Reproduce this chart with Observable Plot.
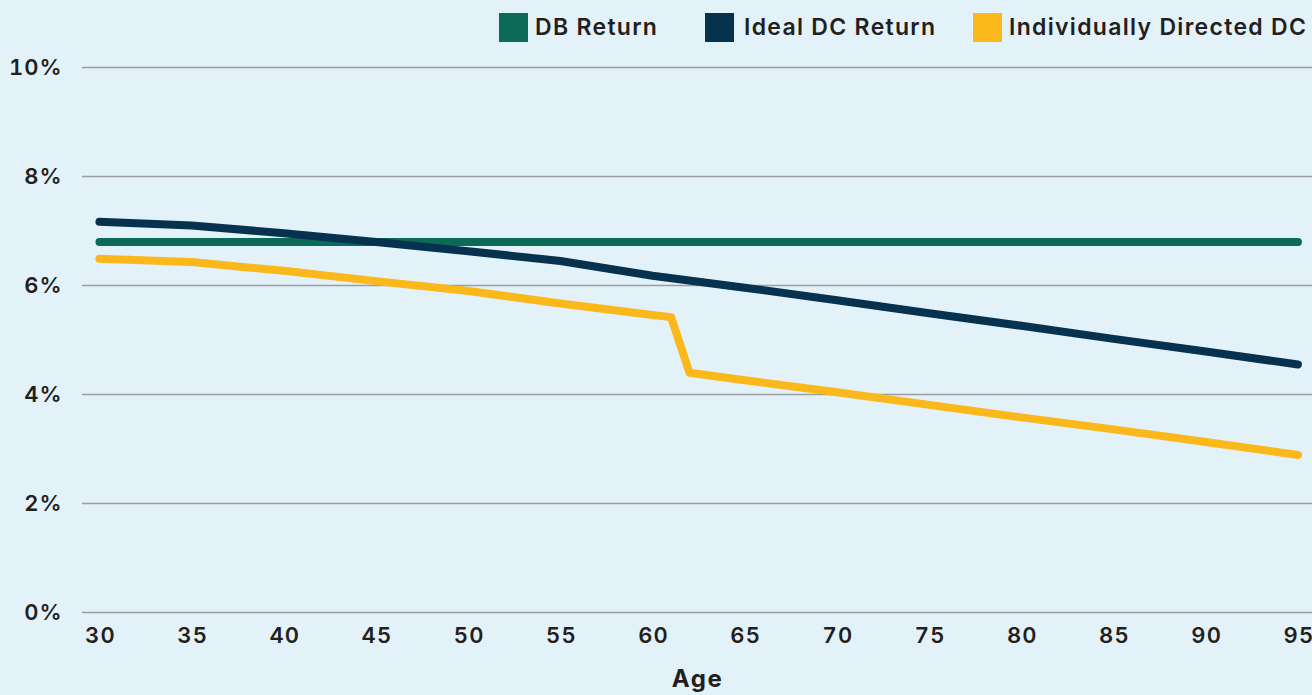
<!DOCTYPE html>
<html>
<head>
<meta charset="utf-8">
<script src="https://cdn.jsdelivr.net/npm/d3@7"></script>
<script src="https://cdn.jsdelivr.net/npm/@observablehq/plot@0.6"></script>
<style>
  html, body { margin: 0; padding: 0; background: #e3f2f8; }
  body { width: 1312px; height: 695px; overflow: hidden; font-family: Inter, "Open Sans", sans-serif; color: #231f20; }
  #legend { position: relative; height: 50px; width: 1312px; }
  .sw { position: absolute; top: 13px; width: 29px; height: 29px; }
  .lt { position: absolute; top: 13px; line-height: 29px; font-size: 23px; font-weight: 600; white-space: nowrap; letter-spacing: 1.3px; }
  #chart svg { display: block; overflow: visible; }
</style>
</head>
<body>
<div id="legend"></div>
<div id="chart"></div>
<script>
// ---- data ----
const seriesNames = ["DB Return", "Ideal DC Return", "Individually Directed DC"];
const seriesColors = ["#0c6b58", "#06314f", "#fbb81a"];

const dbAges = [30, 35, 40, 45, 50, 55, 60, 65, 70, 75, 80, 85, 90, 95];
const dbValues = [6.8, 6.8, 6.8, 6.8, 6.8, 6.8, 6.8, 6.8, 6.8, 6.8, 6.8, 6.8, 6.8, 6.8];

const idealAges = [30, 35, 40, 45, 50, 55, 60, 65, 70, 75, 80, 85, 90, 95];
const idealValues = [7.17, 7.10, 6.96, 6.80, 6.63, 6.45, 6.18, 5.96, 5.73, 5.49, 5.26, 5.02, 4.79, 4.55];

const indivAges = [30, 35, 40, 45, 50, 55, 60, 61, 62, 65, 70, 75, 80, 85, 90, 95];
const indivValues = [6.49, 6.43, 6.27, 6.08, 5.90, 5.67, 5.46, 5.42, 4.40, 4.26, 4.04, 3.81, 3.58, 3.36, 3.13, 2.89];

const xTicks = [30, 35, 40, 45, 50, 55, 60, 65, 70, 75, 80, 85, 90, 95];
const yTicks = [0, 2, 4, 6, 8, 10];

// ---- legend ----
const legendPos = [[499, 535], [705, 744], [973, 1009]];
const legend = document.getElementById("legend");
seriesNames.forEach((name, i) => {
  const s = document.createElement("div");
  s.className = "sw";
  s.style.left = legendPos[i][0] + "px";
  s.style.background = seriesColors[i];
  legend.appendChild(s);
  const t = document.createElement("div");
  t.className = "lt";
  t.style.left = legendPos[i][1] + "px";
  t.textContent = name;
  legend.appendChild(t);
});

// ---- table ----
const rows = [];
dbAges.forEach((a, i) => rows.push({series: seriesNames[0], age: a, value: dbValues[i]}));
idealAges.forEach((a, i) => rows.push({series: seriesNames[1], age: a, value: idealValues[i]}));
indivAges.forEach((a, i) => rows.push({series: seriesNames[2], age: a, value: indivValues[i]}));

const chart = Plot.plot({
  width: 1312,
  height: 645,
  marginLeft: 82,
  marginRight: 0,
  marginTop: 17,
  marginBottom: 83,
  style: {background: "transparent", fontFamily: "Inter, 'Open Sans', sans-serif", color: "#231f20", overflow: "visible"},
  x: {domain: [29.08, 95.79]},
  y: {domain: [0, 10]},
  color: {domain: seriesNames, range: seriesColors},
  marks: [
    Plot.ruleY(yTicks, {stroke: "#9a9ea3", strokeWidth: 1.6, strokeOpacity: 1}),
    Plot.axisY({ticks: yTicks, tickSize: 0, tickPadding: 20, tickFormat: d => d + "%", fontSize: 22, fontWeight: 600, label: null}),
    Plot.axisX({ticks: xTicks, tickSize: 0, tickPadding: 15, tickFormat: d => String(d), fontSize: 22, fontWeight: 600, label: "Age", labelAnchor: "center", labelArrow: "none", labelOffset: 74}),
    Plot.lineY(rows, {x: "age", y: "value", z: "series", stroke: "series", strokeWidth: 8, strokeLinecap: "round", strokeLinejoin: "round"})
  ]
});
chart.querySelectorAll("g[aria-label='x-axis tick label'] text").forEach(t => { t.setAttribute("letter-spacing", "1.2"); t.setAttribute("dx", "1"); });
chart.querySelectorAll("g[aria-label='y-axis tick label'] text").forEach(t => { t.setAttribute("letter-spacing", "1"); });
chart.querySelectorAll("g[aria-label='x-axis label'] text").forEach(t => { t.setAttribute("font-size", "24"); t.setAttribute("font-weight", "700"); t.setAttribute("letter-spacing", "1.5"); });
document.getElementById("chart").appendChild(chart);
</script>
</body>
</html>
